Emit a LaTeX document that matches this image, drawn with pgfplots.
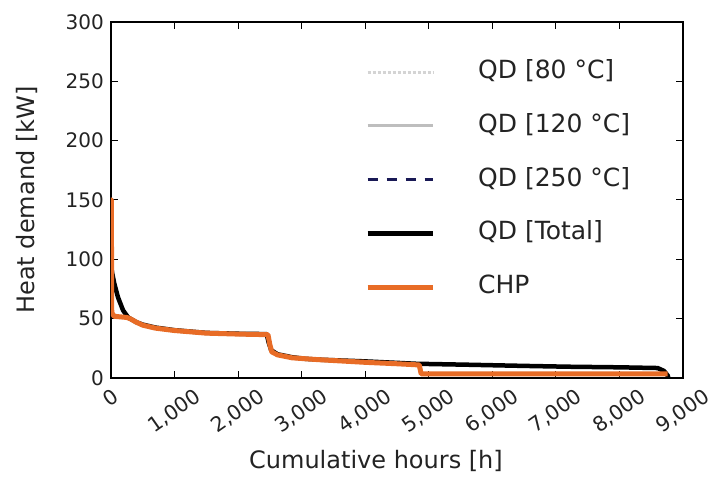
\documentclass[border=0pt]{standalone}
\usepackage{pgfplots}
\pgfplotsset{compat=1.18}
\usepackage{fontspec}
\setmainfont{DejaVu Sans}
\usepackage{graphicx}
\definecolor{chp}{RGB}{232,108,38}
\definecolor{qdeighty}{RGB}{212,212,212}
\definecolor{qdonetwenty}{RGB}{190,190,190}
\definecolor{qdtwofifty}{RGB}{25,25,85}
\definecolor{txt}{RGB}{35,35,35}
\begin{document}
\begin{tikzpicture}
\useasboundingbox (-111bp,-99bp) rectangle (597bp,378bp);
\begin{axis}[
  at={(0,0)}, anchor=south west,
  scale only axis, width=572bp, height=356bp,
  xmin=0, xmax=9000, ymin=0, ymax=300,
  xtick={0,1000,...,9000}, ytick={0,50,...,300},
  scaled x ticks=false, scaled y ticks=false,
  /pgf/number format/assume math mode=true,
  axis line style={line width=1.3bp, black},
  major tick length=7bp,
  tick style={line width=1bp, black},
  xticklabel={\rotatebox{35}{\pgfmathprintnumber{\tick}}},
  xticklabel style={anchor=north, inner sep=0pt, yshift=-9bp,
    font=\fontsize{20.5bp}{24bp}\selectfont, text=txt},
  yticklabel style={anchor=east, inner sep=0pt, xshift=-7bp,
    font=\fontsize{20bp}{24bp}\selectfont, text=txt},
  xlabel={Cumulative hours [h]},
  ylabel={Heat demand [kW]},
  xlabel style={font=\fontsize{24bp}{28bp}\selectfont, text=txt,
    at={(axis description cs:0.5,0)}, anchor=base, xshift=-21bp, yshift=-90bp},
  ylabel style={font=\fontsize{24bp}{28bp}\selectfont, text=txt,
    at={(axis description cs:-0.1329,0.5)}, anchor=base, rotate=0},
  legend cell align=left,
  legend image code/.code={\draw[#1] (0bp,0bp) -- (65bp,0bp);},
  legend style={draw=none, fill=none, at={(0.444,0.8947)}, anchor=north west,
    inner sep=0pt, row sep=28.75bp, column sep=43bp,
    font=\fontsize{25bp}{30bp}\selectfont, text=txt,
    nodes={inner sep=0pt, text height=19bp, text depth=6bp}},
]
\addlegendimage{qdeighty, line width=3bp, dotted}
\addlegendentry{QD [80 °C]}
\addlegendimage{qdonetwenty, line width=3bp}
\addlegendentry{QD [120 °C]}
\addlegendimage{qdtwofifty, line width=3bp, dash pattern=on 10bp off 9bp}
\addlegendentry{QD [250 °C]}

\addplot[black, line width=4.5bp, line join=round] coordinates {
(0,95) (20,88) (50,80) (110,68) (190,57) (270,51) (400,47) (500,45)
(700,42.5) (1000,40.3) (1500,38) (2000,37.3) (2450,37) (2480,30) (2520,23.5)
(2620,20) (2850,17.5) (3050,16.2) (3250,15.5) (4000,14) (4800,12)
(5600,11.2) (6500,10.2) (7200,9.5) (8000,9) (8600,8.4) (8700,6) (8760,2) (8770,0)
};
\addlegendentry{QD [Total]}

\addplot[chp, line width=5bp, line join=round] coordinates {
(0,150) (5,150) (12,55) (50,52) (250,51) (300,50) (400,47) (500,44.5)
(700,42) (1000,40) (1500,37.8) (2000,37) (2470,36.5) (2500,28) (2530,22)
(2620,19.5) (2850,17) (3250,15.5) (4000,13.2) (4500,12) (4850,11)
(4880,3.5) (8760,3.5)
};
\addlegendentry{CHP}
\end{axis}
\end{tikzpicture}
\end{document}
